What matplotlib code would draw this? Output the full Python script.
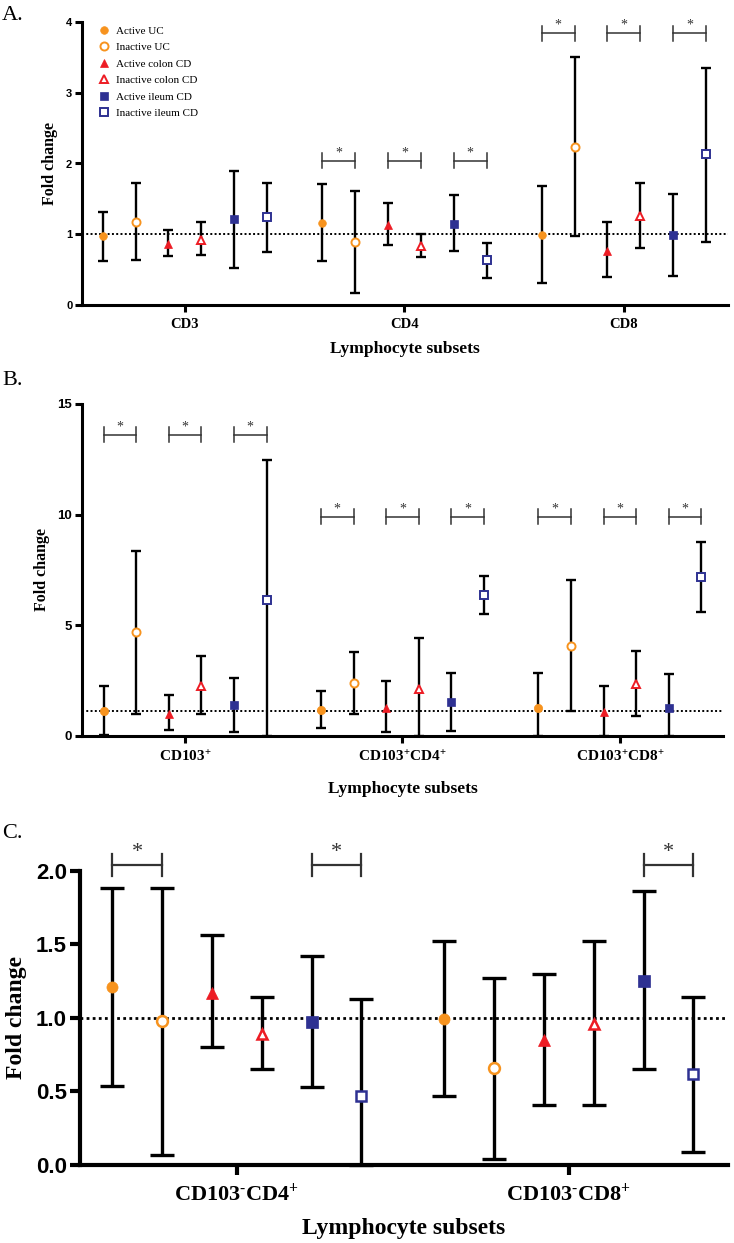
import matplotlib
matplotlib.use('Agg')
import matplotlib.pyplot as plt
import numpy as np

plt.rcParams['font.family'] = ['Liberation Serif', 'DejaVu Serif']
plt.rcParams['mathtext.fontset'] = 'custom'
plt.rcParams['mathtext.rm'] = 'Liberation Serif:bold'
plt.rcParams['mathtext.it'] = 'Liberation Serif:bold'
plt.rcParams['mathtext.bf'] = 'Liberation Serif:bold'
plt.rcParams['mathtext.default'] = 'rm'

# ---------------- data ----------------
series_names = ['Active UC', 'Inactive UC', 'Active colon CD',
                'Inactive colon CD', 'Active ileum CD', 'Inactive ileum CD']

groups_A = ['CD3', 'CD4', 'CD8']
mid_A = [[0.97, 1.16, 0.99], [1.18, 0.89, 2.23], [0.86, 1.13, 0.77],
         [0.92, 0.83, 1.26], [1.21, 1.15, 0.99], [1.24, 0.63, 2.13]]
lo_A = [[0.62, 0.62, 0.31], [0.64, 0.17, 0.98], [0.69, 0.85, 0.40],
        [0.70, 0.68, 0.80], [0.53, 0.77, 0.41], [0.75, 0.38, 0.89]]
hi_A = [[1.31, 1.71, 1.68], [1.73, 1.61, 3.50], [1.06, 1.44, 1.18],
        [1.17, 1.00, 1.72], [1.90, 1.55, 1.57], [1.73, 0.87, 3.35]]
sig_A = [(1, 0, 1, 2.04), (1, 2, 3, 2.04), (1, 4, 5, 2.04),
         (2, 0, 1, 3.84), (2, 2, 3, 3.84), (2, 4, 5, 3.84)]
ref_A = 1.0

groups_B = ['CD103$^{+}$', 'CD103$^{+}$CD4$^{+}$', 'CD103$^{+}$CD8$^{+}$']
mid_B = [[1.13, 1.16, 1.24], [4.68, 2.38, 4.07], [1.00, 1.27, 1.09],
         [2.23, 2.13, 2.35], [1.39, 1.52, 1.25], [6.12, 6.36, 7.18]]
lo_B = [[0.05, 0.33, 0.00], [1.00, 1.00, 1.12], [0.27, 0.18, 0.00],
        [1.00, 0.00, 0.90], [0.18, 0.21, 0.00], [0.00, 5.52, 5.61]]
hi_B = [[2.25, 2.04, 2.84], [8.35, 3.79, 7.04], [1.83, 2.47, 2.23],
        [3.59, 4.43, 3.83], [2.62, 2.84, 2.78], [12.46, 7.21, 8.75]]
sig_B = [(0, 0, 1, 13.6), (0, 2, 3, 13.6), (0, 4, 5, 13.6),
         (1, 0, 1, 9.9), (1, 2, 3, 9.9), (1, 4, 5, 9.9),
         (2, 0, 1, 9.9), (2, 2, 3, 9.9), (2, 4, 5, 9.9)]
ref_B = 1.13

groups_C = ['CD103$^{\\text{-}}$CD4$^{+}$', 'CD103$^{\\text{-}}$CD8$^{+}$']
mid_C = [[1.21, 0.99], [0.98, 0.66], [1.17, 0.85],
         [0.89, 0.96], [0.97, 1.25], [0.47, 0.62]]
lo_C = [[0.54, 0.47], [0.07, 0.04], [0.80, 0.41],
        [0.65, 0.41], [0.53, 0.65], [0.00, 0.09]]
hi_C = [[1.88, 1.52], [1.88, 1.27], [1.56, 1.30],
        [1.14, 1.52], [1.42, 1.86], [1.13, 1.14]]
sig_C = [(0, 0, 1, 2.04), (0, 4, 5, 2.04), (1, 4, 5, 2.04)]
ref_C = 1.0

# ---------------- styles ----------------
ORANGE = '#F7931E'
RED = '#ED1C24'
BLUE = '#2E3192'
marker_styles = [
    dict(marker='o', mfc=ORANGE, mec=ORANGE),
    dict(marker='o', mfc='white', mec=ORANGE),
    dict(marker='^', mfc=RED, mec=RED),
    dict(marker='^', mfc='white', mec=RED),
    dict(marker='s', mfc=BLUE, mec=BLUE),
    dict(marker='s', mfc='white', mec=BLUE),
]
is_open = [False, True, False, True, False, True]

W, H = 734, 1243
fig = plt.figure(figsize=(W / 100, H / 100), dpi=100)


def px_rect(left, top, right, bottom):
    return [left / W, 1 - bottom / H, (right - left) / W, (bottom - top) / H]


def panel(rect, groups, mid, lo, hi, sig, ref, ylim, yticks, yfmt, xlim, st):
    ax = fig.add_axes(rect)
    n = len(groups)
    gx = np.arange(n)
    handles = []
    for j in range(6):
        xs = gx + (j - 2.5) * 0.15
        m = np.array(mid[j]); l = np.array(lo[j]); h = np.array(hi[j])
        ax.errorbar(xs, m, yerr=[m - l, h - m], fmt='none', ecolor='black',
                    elinewidth=st['elw'], capsize=st['cap'], capthick=st['elw'],
                    zorder=3, clip_on=False)
        if is_open[j]:
            ms, mew = st['ms_o'], st['mew_o']
        else:
            ms, mew = st['ms_f'], st['mew_f']
        ln, = ax.plot(xs, m, linestyle='none', ms=ms, mew=mew,
                      zorder=4, clip_on=False, label=series_names[j],
                      **marker_styles[j])
        handles.append(ln)
    ax.axhline(ref, color='black', ls=(0, (1, 1.2)), lw=st['dot'], zorder=2)
    for g, j1, j2, yb in sig:
        x1 = g + (j1 - 2.5) * 0.15
        x2 = g + (j2 - 2.5) * 0.15
        d = st['bh']
        ax.plot([x1, x2], [yb, yb], color='#333333', lw=st['blw'], clip_on=False)
        ax.plot([x1, x1], [yb - d, yb + d], color='#333333', lw=st['blw'], clip_on=False)
        ax.plot([x2, x2], [yb - d, yb + d], color='#333333', lw=st['blw'], clip_on=False)
        ax.annotate('*', ((x1 + x2) / 2, yb), xytext=(0, st['soff']),
                    textcoords='offset points', ha='center', va='bottom',
                    fontsize=st['sfs'], color='#333333', annotation_clip=False)
    ax.set_xlim(*xlim)
    ax.set_ylim(*ylim)
    ax.set_yticks(yticks)
    ax.set_yticklabels([yfmt % v for v in yticks], family='Liberation Sans',
                       fontweight='bold', fontsize=st['yfs'])
    ax.set_xticks(gx)
    ax.set_xticklabels(groups, fontweight='bold', fontsize=st['xfs'])
    for s in ['top', 'right']:
        ax.spines[s].set_visible(False)
    for s in ['left', 'bottom']:
        ax.spines[s].set_linewidth(st['slw'])
    ax.tick_params(axis='both', direction='out', width=st['slw'],
                   length=st['tl'])
    ax.tick_params(axis='x', pad=st['xpad'])
    ax.tick_params(axis='y', pad=st['ypad'])
    ax.text(st['ylx'], 0.5, 'Fold change', transform=ax.transAxes, rotation=90,
            ha='center', va='center', fontweight='bold', fontsize=st['lfs'])
    ax.text(0.5, st['xly'], 'Lymphocyte subsets', transform=ax.transAxes,
            ha='center', va='center', fontweight='bold', fontsize=st['xlfs'])
    return ax, handles


stA = dict(elw=1.7, cap=3.6, ms_f=5.5, mew_f=0.5, ms_o=5.8, mew_o=1.4, dot=1.4,
           bh=0.106, blw=1.1, soff=1, sfs=10, yfs=8, xfs=10.5, slw=2.2, tl=5,
           xpad=4.5, ypad=2, ylx=-0.05, xly=-0.155, lfs=11.5, xlfs=12.5)
stB = dict(elw=1.7, cap=3.6, ms_f=6, mew_f=0.5, ms_o=5.8, mew_o=1.4, dot=1.4,
           bh=0.34, blw=1.1, soff=1, sfs=10, yfs=9.5, xfs=11, slw=2.2, tl=5,
           xpad=5, ypad=2, ylx=-0.062, xly=-0.16, lfs=11.5, xlfs=12.5)
stC = dict(elw=2.4, cap=8.3, ms_f=8, mew_f=0.5, ms_o=7.8, mew_o=1.8, dot=2.0,
           bh=0.075, blw=1.6, soff=2, sfs=16, yfs=16, xfs=16, slw=3, tl=7,
           xpad=6, ypad=2, ylx=-0.097, xly=-0.215, lfs=17, xlfs=17)

axA, hA = panel(px_rect(82, 22, 728, 305), groups_A, mid_A, lo_A, hi_A, sig_A,
                ref_A, (0, 4), [0, 1, 2, 3, 4], '%d', (-0.469, 2.474), stA)
axA.legend(hA, series_names, loc='upper left', bbox_to_anchor=(0.0255, 0.986),
           frameon=False, fontsize=8, labelspacing=0.6, handlelength=1.0,
           handletextpad=0.55, borderpad=0, borderaxespad=0, numpoints=1)

axB, hB = panel(px_rect(82, 404, 723, 735.7), groups_B, mid_B, lo_B, hi_B, sig_B,
                ref_B, (0, 15), [0, 5, 10, 15], '%d', (-0.474, 2.474), stB)

axC, hC = panel(px_rect(79.5, 870.7, 728, 1165), groups_C, mid_C, lo_C, hi_C, sig_C,
                ref_C, (0, 2), [0, 0.5, 1.0, 1.5, 2.0], '%.1f', (-0.474, 1.479), stC)

fig.text(2 / W, 1 - 20 / H, 'A.', fontsize=16, ha='left', va='baseline')
fig.text(2 / W, 1 - 385 / H, 'B.', fontsize=16, ha='left', va='baseline')
fig.text(2 / W, 1 - 838 / H, 'C.', fontsize=16, ha='left', va='baseline')

fig.savefig('out.png', dpi=100)
